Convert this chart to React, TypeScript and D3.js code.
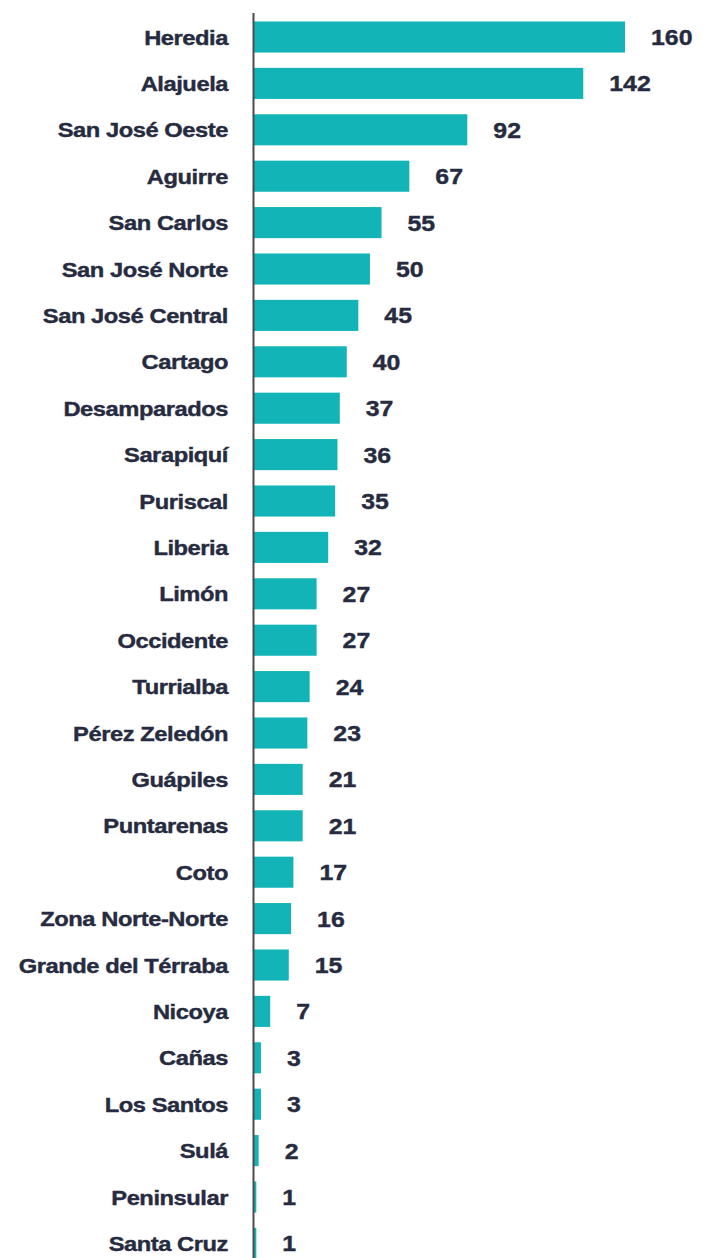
import { useEffect, useRef } from 'react';
import * as d3 from 'd3';

const regions = [
  'Heredia', 'Alajuela', 'San José Oeste', 'Aguirre', 'San Carlos', 'San José Norte',
  'San José Central', 'Cartago', 'Desamparados', 'Sarapiquí', 'Puriscal', 'Liberia',
  'Limón', 'Occidente', 'Turrialba', 'Pérez Zeledón', 'Guápiles', 'Puntarenas', 'Coto',
  'Zona Norte-Norte', 'Grande del Térraba', 'Nicoya', 'Cañas', 'Los Santos', 'Sulá',
  'Peninsular', 'Santa Cruz',
];
const cases = [160, 142, 92, 67, 55, 50, 45, 40, 37, 36, 35, 32, 27, 27, 24, 23, 21, 21, 17, 16, 15, 7, 3, 3, 2, 1, 1];

const App = () => {
  const ref = useRef<SVGSVGElement>(null);

  useEffect(() => {
    const width = 707;
    const height = 1258;
    const axisX = 254;
    const step = 46.4;

    const svg = d3.select(ref.current);
    svg.selectAll('*').remove();
    svg.attr('width', width).attr('height', height);

    const data = regions.map((name, i) => ({ name, value: cases[i] }));

    const x = d3.scaleLinear().domain([0, 160]).range([axisX, 625]);
    const y = d3
      .scaleBand()
      .domain(regions)
      .range([13.8, 13.8 + regions.length * step])
      .paddingInner(0.33)
      .paddingOuter(0.165);

    const textColor = '#262b40';
    const stretch = 1.13;

    svg
      .append('g')
      .selectAll('rect')
      .data(data)
      .join('rect')
      .attr('x', x(0))
      .attr('y', (d) => y(d.name)!)
      .attr('width', (d) => x(d.value) - x(0))
      .attr('height', y.bandwidth())
      .attr('fill', '#12b4b8');

    // region labels (slightly stretched bold sans, like the original)
    svg
      .append('g')
      .selectAll('text')
      .data(data)
      .join('text')
      .attr('transform', (d) => `translate(228,${y(d.name)! + y.bandwidth() / 2}) scale(${stretch},1)`)
      .attr('dy', '0.36em')
      .attr('text-anchor', 'end')
      .attr('font-family', '"Liberation Sans", Arial, sans-serif')
      .attr('font-weight', 'bold')
      .attr('font-size', 21)
      .attr('letter-spacing', -0.4)
      .attr('fill', textColor)
      .attr('stroke', textColor)
      .attr('stroke-width', 0.4)
      .text((d) => d.name);

    svg
      .append('g')
      .selectAll('text')
      .data(data)
      .join('text')
      .attr('transform', (d) => `translate(${x(d.value) + 26},${y(d.name)! + y.bandwidth() / 2}) scale(${stretch},1)`)
      .attr('dy', '0.36em')
      .attr('font-family', '"Liberation Sans", Arial, sans-serif')
      .attr('font-weight', 'bold')
      .attr('font-size', 22)
      .attr('fill', textColor)
      .attr('stroke', textColor)
      .attr('stroke-width', 0.4)
      .text((d) => d.value);

    // vertical axis line
    svg
      .append('line')
      .attr('x1', axisX - 0.5)
      .attr('x2', axisX - 0.5)
      .attr('y1', 13)
      .attr('y2', height)
      .attr('stroke', '#4a4a4a')
      .attr('stroke-width', 2);
  }, []);

  return (
    <svg
      ref={ref}
      style={{ position: 'absolute', left: 0, top: 0, display: 'block', background: '#fff' }}
    />
  );
};

export default App;
